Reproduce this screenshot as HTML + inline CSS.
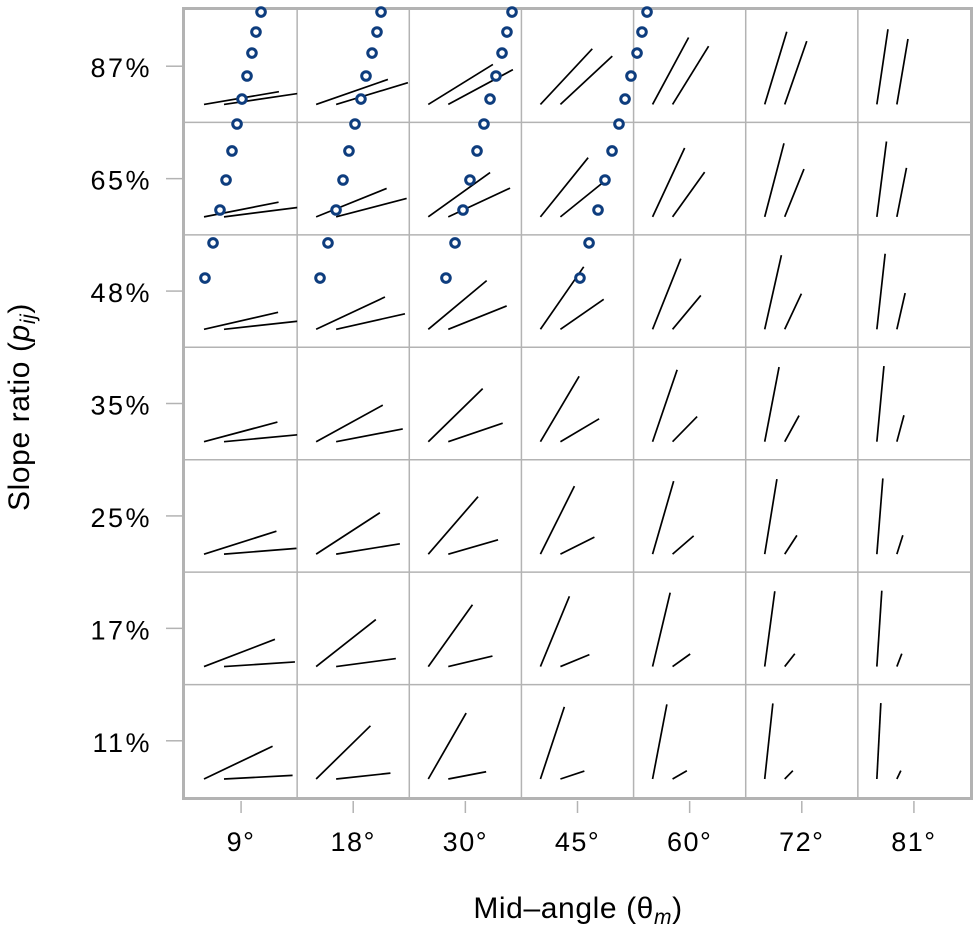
<!DOCTYPE html>
<html><head><meta charset="utf-8"><style>
html,body{margin:0;padding:0;background:#fff;}
svg{display:block;font-family:"Liberation Sans",Arial,sans-serif;}
</style></head><body>
<svg id="chart" width="977" height="940" viewBox="0 0 977 940" xmlns="http://www.w3.org/2000/svg">
<defs id="defs"></defs>
<g id="grid"></g><g id="marks"></g><g id="pts"></g><g id="axes"></g>
<text x="578" y="918" font-size="30" letter-spacing="0.6" text-anchor="middle">Mid‒angle (θ<tspan font-style="italic" font-size="21" dy="6">m</tspan><tspan dy="-6">)</tspan></text>
<text transform="translate(29,407) rotate(-90)" font-size="30" letter-spacing="0.6" text-anchor="middle">Slope ratio (<tspan font-style="italic">p</tspan><tspan font-style="italic" font-size="21" dy="6">ij</tspan><tspan dy="-6">)</tspan></text>
</svg>
<script>
const midAngles = [9, 18, 30, 45, 60, 72, 81];
const xTickLabels = ["9°", "18°", "30°", "45°", "60°", "72°", "81°"];
const slopeRatios = [0.11, 0.17, 0.25, 0.35, 0.48, 0.65, 0.87];
const yTickLabels = ["11%", "17%", "25%", "35%", "48%", "65%", "87%"];
// circle curve values in continuous (column, row) units
const curveRows = [4.616, 4.928, 5.221, 5.488, 5.746, 5.986, 6.208, 6.413, 6.617, 6.804, 6.982];
const curveA = [0.178, 0.250, 0.312, 0.366, 0.419, 0.464, 0.508, 0.553, 0.597, 0.633, 0.678];
const curveB = [1.204, 1.275, 1.347, 1.409, 1.462, 1.516, 1.569, 1.614, 1.668, 1.712, 1.748];
const curveC = [2.327, 2.408, 2.479, 2.541, 2.604, 2.666, 2.720, 2.773, 2.827, 2.871, 2.916];
const curveD = [3.522, 3.603, 3.683, 3.745, 3.808, 3.870, 3.924, 3.977, 4.031, 4.075, 4.120];

const NS = "http://www.w3.org/2000/svg";
const L = 185, R = 970, T = 10, B = 797;
const cw = (R - L) / 7, ch = (B - T) / 7;
const xs = c => L + c * cw;
const ys = r => B - r * ch;
function mk(tag, attrs, parent) {
  const e = document.createElementNS(NS, tag);
  for (const k in attrs) e.setAttribute(k, attrs[k]);
  parent.appendChild(e);
  return e;
}
const grid = document.getElementById('grid'), marks = document.getElementById('marks'),
      pts = document.getElementById('pts'), axes = document.getElementById('axes'),
      defs = document.getElementById('defs');

const fr = mk('rect', {x: L - 1.5, y: T - 1.5, width: R - L + 3, height: B - T + 3, fill: 'none', stroke: '#b3b3b3', 'stroke-width': 3}, grid);


for (let i = 1; i < 7; i++) {
  const v = mk('line', {x1: xs(i), x2: xs(i), y1: T, y2: B, stroke: '#b3b3b3', 'stroke-width': 1.5}, grid);
  
  
  const h = mk('line', {x1: L, x2: R, y1: ys(i), y2: ys(i), stroke: '#b3b3b3', 'stroke-width': 1.5}, grid);
  
  
}

const len = 76;
midAngles.forEach((tm, c) => {
  slopeRatios.forEach((p, r) => {
    const id = 'clip' + c + '_' + r;
    const cp = mk('clipPath', {id: id}, defs);
    mk('rect', {x: xs(c), y: ys(r + 1), width: cw, height: ch}, cp);
    const t = Math.tan(tm * Math.PI / 180);
    const t1 = t / Math.sqrt(p);
    const a1 = Math.atan(t1);
    const dx = len * Math.cos(a1), dy = len * Math.sin(a1);
    const x0 = xs(c) + 19, y0 = ys(r) - 18;
    const g = mk('g', {'clip-path': 'url(#' + id + ')'}, marks);
    
    
    const l1 = mk('line', {x1: x0, y1: y0, x2: x0 + dx, y2: y0 - dy, stroke: '#000', 'stroke-width': 1.7}, g);
    
    
    const l2 = mk('line', {x1: x0 + 20, y1: y0, x2: x0 + 20 + dx, y2: y0 - dy * p, stroke: '#000', 'stroke-width': 1.7}, g);
    
    
  });
});

[curveA, curveB, curveC, curveD].forEach((arr, k) => {
  arr.forEach((cx, i) => {
    const ci = mk('circle', {cx: xs(cx), cy: ys(curveRows[i]), r: 4.3, fill: '#fff', stroke: '#0e3d7e', 'stroke-width': 3}, pts);
    
    
  });
});

xTickLabels.forEach((lab, c) => {
  const x = xs(c + 0.5);
  const tk = mk('line', {x1: x, x2: x, y1: 801, y2: 813, stroke: '#b3b3b3', 'stroke-width': 1.5}, axes);
  
  
  const tx = mk('text', {x: x, y: 851, 'font-size': 27, 'letter-spacing': 1.5, 'text-anchor': 'middle'}, axes);
  tx.textContent = lab;
  
  
});
yTickLabels.forEach((lab, r) => {
  const y = ys(r + 0.5);
  const tk = mk('line', {x1: 166, x2: 182, y1: y, y2: y, stroke: '#b3b3b3', 'stroke-width': 1.5}, axes);
  
  
  const tx = mk('text', {x: 152, y: y + 11, 'font-size': 27, 'letter-spacing': 2.5, 'text-anchor': 'end'}, axes);
  tx.textContent = lab;
  
  
});
</script>
</body></html>
